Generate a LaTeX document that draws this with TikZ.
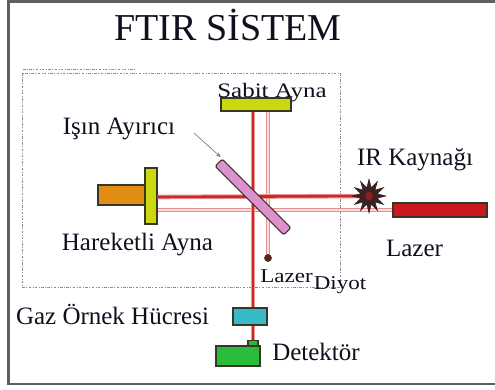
\documentclass[tikz,border=0pt]{standalone}
\usepackage{fontspec}
\setmainfont{Liberation Serif}
\usetikzlibrary{shapes.geometric,arrows.meta}
\definecolor{framegray}{RGB}{95,95,95}
\definecolor{boxgray}{RGB}{140,140,140}
\definecolor{beamdark}{RGB}{205,40,40}
\definecolor{beamhalo}{RGB}{236,150,150}
\definecolor{beamlight}{RGB}{232,140,140}
\definecolor{beamcore}{RGB}{250,222,222}
\definecolor{mirrorgreen}{RGB}{205,215,15}
\definecolor{driveorange}{RGB}{225,140,20}
\definecolor{splitpink}{RGB}{220,145,205}
\definecolor{laserred}{RGB}{200,25,30}
\definecolor{sourcedark}{RGB}{60,35,35}
\definecolor{cellcyan}{RGB}{55,185,200}
\definecolor{detgreen}{RGB}{40,190,60}
\definecolor{partedge}{RGB}{55,55,40}
\definecolor{labeltext}{RGB}{15,15,30}
\begin{document}
\begin{tikzpicture}[x=1bp,y=-1bp,
  lbl/.style={inner sep=0pt, anchor=base, text=labeltext,
    font=\fontsize{25bp}{30bp}\selectfont},
  part/.style={rectangle, draw=partedge, line width=1.1bp, inner sep=0pt},
  beamd/.style={line width=2.6bp, draw=beamdark},
  beamdhalo/.style={line width=4.6bp, draw=beamhalo},
  beaml/.style={line width=4bp, draw=beamlight},
  beamlcore/.style={line width=1.6bp, draw=beamcore},
  pointer/.style={draw=gray, line width=0.7bp,
    -{Stealth[length=5bp,width=4bp,fill=black!80]}, shorten >=2bp},
  dashbox/.style={draw=boxgray, line width=1bp,
    dash pattern=on 2.5bp off 1.5bp on 0.8bp off 1.5bp},
]
\useasboundingbox (0,0) rectangle (495,389);

% outer frame (runs past the right edge)
\draw[framegray, line width=2.6bp] (8.5,1.5) rectangle (505,384);

% interferometer housing
\draw[dashbox] (22,73) rectangle (340,287);
\draw[dashbox] (23,69.5) -- (136,69.5);

% title
\node[lbl, font=\fontsize{38bp}{44bp}\selectfont] (title) at (228,40) {FTIR SİSTEM};

% optical parts (positions)
\node[part, fill=mirrorgreen, minimum width=70bp, minimum height=13bp] (fixed) at (256,104.5) {};
\node[part, fill=driveorange, minimum width=47bp, minimum height=20bp] (drive) at (121.5,195) {};
\node[part, fill=mirrorgreen, minimum width=12bp, minimum height=56bp] (moving) at (151,196) {};
\coordinate (bs) at (253,197);
\node[part, fill=laserred, minimum width=94bp, minimum height=14bp] (laser) at (440,210) {};
\node[circle, fill=sourcedark!80!laserred, inner sep=0pt, minimum size=7bp] (diode) at (268,258) {};
\node[part, fill=cellcyan, minimum width=34bp, minimum height=17bp] (cell) at (250,316.5) {};
\node[part, fill=detgreen, minimum width=10bp, minimum height=6bp] (tab) at (253,343.5) {};
\coordinate (irc) at (369,196);

% beams: IR path (dark) and reference laser path (light)
\draw[beaml] (fixed.south -| diode) -- (diode.center);
\draw[beamlcore] (fixed.south -| diode) -- (diode.north);
\draw[beaml] (moving.east |- laser) -- (laser.west);
\draw[beamlcore] (moving.east |- laser) -- (laser.west);
\draw[beamdhalo] (fixed.south -| bs) -- (tab.north -| bs);
\draw[beamd] (fixed.south -| bs) -- (tab.north -| bs);
\draw[beamdhalo] (moving.east |- bs) -- (irc);
\draw[beamd] (moving.east |- bs) -- (irc);

% parts drawn over the beams
\node[part, fill=splitpink, rounded corners=1.5bp, minimum width=97bp, minimum height=10bp, rotate=-45] (split) at (bs) {};
\node[star, star points=12, star point ratio=2, fill=sourcedark, draw=sourcedark!70!black,
      inner sep=0pt, minimum size=34bp] (ir) at (irc) {};
\node[circle, fill=laserred!60!sourcedark, inner sep=0pt, minimum size=8bp] at (irc) {};
\node[circle, fill=sourcedark!80!laserred, draw=partedge, line width=0.5bp, inner sep=0pt, minimum size=7bp] at (diode) {};
\node[part, fill=cellcyan, minimum width=34bp, minimum height=17bp] at (cell) {};
\node[part, fill=detgreen, minimum width=10bp, minimum height=6bp] at (tab) {};
\node[part, fill=detgreen, minimum width=44bp, minimum height=20bp] (det) at (238,356) {};

% pointer to the beam splitter
\coordinate (ptail) at (194,133);
\draw[pointer] (ptail) -- (split.north west);

% labels
\node[lbl] (lfixed) at (272,97) {\scalebox{1}[0.82]{Sabit Ayna}};
\node[lbl] (lsplit) at (119,134) {Işın Ayırıcı};
\node[lbl] (lmoving) at (137.5,250) {Hareketli Ayna};
\node[lbl] (lir) at (415,165) {IR Kaynağı};
\node[lbl] (llaser) at (414.5,256) {Lazer};
\node[lbl, font=\fontsize{23bp}{28bp}\selectfont] (ldiode1) at (286.5,282) {\scalebox{1}[0.85]{Lazer}};
\node[lbl, font=\fontsize{23bp}{28bp}\selectfont] (ldiode2) at (340,289) {\scalebox{1}[0.85]{Diyot}};
\node[lbl] (lcell) at (112.5,324) {Gaz Örnek Hücresi};
\node[lbl] (ldet) at (316,360) {Detektör};
\end{tikzpicture}
\end{document}
